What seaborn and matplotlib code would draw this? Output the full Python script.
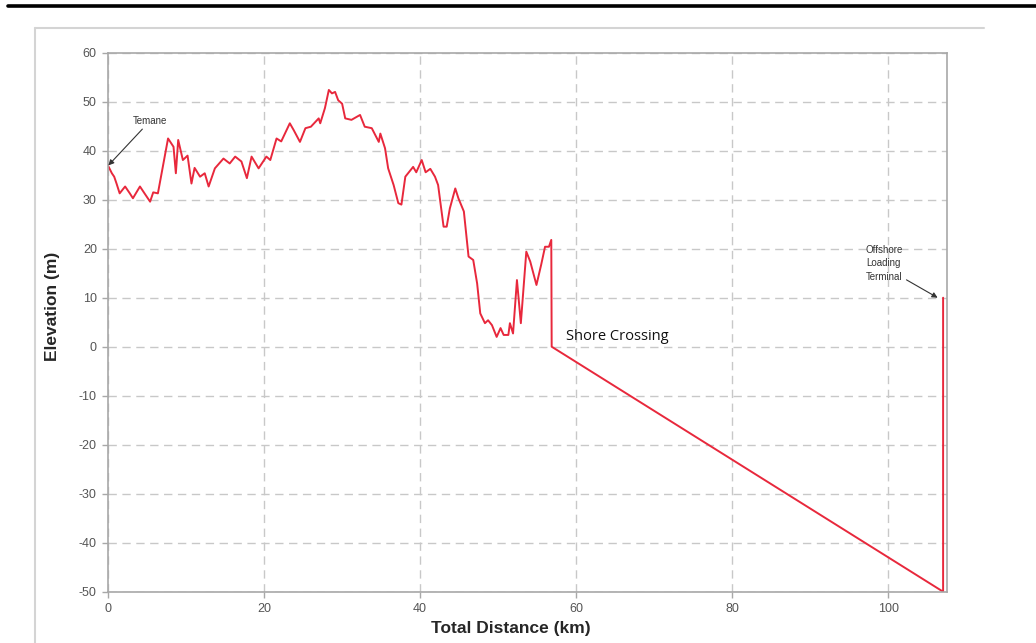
import pandas as pd
import matplotlib
matplotlib.use("Agg")
import matplotlib.pyplot as plt
from matplotlib.lines import Line2D
import seaborn as sns

# elevation profile along the pipeline (km, m)
dist = [0.0, 0.5, 0.8, 1.1, 1.5, 2.2, 2.8, 3.2, 4.1, 4.6, 5.4, 5.8, 6.4,
        7.7, 8.4, 8.7, 9.0, 9.6, 10.2, 10.7, 11.1, 11.8, 12.4, 12.9, 13.7,
        14.8, 15.6, 16.3, 17.1, 17.8, 18.4, 19.3, 20.3, 20.8, 21.6, 22.2,
        23.3, 23.8, 24.6, 25.3, 26.0, 27.0, 27.2, 27.8, 28.3, 28.7, 29.1,
        29.5, 30.0, 30.4, 31.2, 32.3, 32.9, 33.8, 34.7, 34.9, 35.5, 35.9,
        36.6, 37.2, 37.6, 38.1, 39.1, 39.5, 40.2, 40.7, 41.3, 41.9, 42.3,
        43.0, 43.4, 43.8, 44.5, 44.9, 45.6, 46.2, 46.8, 47.3, 47.7, 48.3,
        48.7, 49.2, 49.8, 50.3, 50.7, 51.3, 51.5, 51.9, 52.4, 52.9, 53.6,
        54.1, 54.9, 55.5, 56.0, 56.5, 56.8, 56.85, 107.0, 107.0]
elev = [37.0, 35.4, 34.7, 33.3, 31.3, 32.7, 31.3, 30.3, 32.7, 31.5, 29.6, 31.5, 31.3,
        42.5, 40.8, 35.4, 42.2, 38.1, 39.0, 33.3, 36.5, 34.7, 35.4, 32.7, 36.4,
        38.4, 37.4, 38.8, 37.8, 34.4, 38.8, 36.4, 38.8, 38.1, 42.5, 41.9,
        45.6, 44.2, 41.8, 44.6, 44.9, 46.6, 45.6, 48.7, 52.4, 51.7, 52.0,
        50.3, 49.6, 46.6, 46.3, 47.3, 44.9, 44.6, 41.8, 43.5, 40.5, 36.4,
        33.0, 29.3, 29.0, 34.7, 36.7, 35.6, 38.1, 35.6, 36.3, 34.7, 33.0,
        24.5, 24.5, 28.2, 32.3, 30.3, 27.6, 18.4, 17.7, 12.9, 6.8, 4.8,
        5.4, 4.4, 2.0, 3.8, 2.4, 2.4, 4.8, 2.7, 13.6, 4.8, 19.4,
        17.4, 12.6, 16.7, 20.4, 20.4, 21.8, 0.0, -50.0, 10.0]

x_ticks = [0, 20, 40, 60, 80, 100]
y_ticks = [-50, -40, -30, -20, -10, 0, 10, 20, 30, 40, 50, 60]

df = pd.DataFrame({"dist": dist, "elev": elev})

sns.set_style("white")
plt.rcParams["font.family"] = ["Liberation Sans", "DejaVu Sans"]
plt.rcParams["axes.unicode_minus"] = False

fig = plt.figure(figsize=(10.36, 6.43), dpi=100)
ax = fig.add_axes([0.1042, 0.0798, 0.8099, 0.8382])

sns.lineplot(data=df, x="dist", y="elev", sort=False, estimator=None,
             color="#e8283c", linewidth=1.4, ax=ax)

ax.set_xlim(0, 107.5)
ax.set_ylim(-50, 60)
ax.set_xticks(x_ticks)
ax.set_yticks(y_ticks)
ax.grid(True, color="#c8c8c8", linestyle=(0, (6, 4)), linewidth=1.0)
ax.set_axisbelow(True)
for s in ax.spines.values():
    s.set_color("#a8a8a8")
    s.set_linewidth(1.2)
ax.tick_params(axis="both", length=4, width=1, color="#a8a8a8",
               labelsize=9, labelcolor="#555555", pad=4, direction="out",
               bottom=True, left=True)
ax.set_xlabel("")
ax.set_ylabel("")

# annotations
ax.annotate("Temane", xy=(0.05, 37), xytext=(3.2, 46.1), fontsize=7,
            color="#333333", va="center", ha="left",
            arrowprops=dict(arrowstyle="-|>", color="#333333", lw=0.8,
                            mutation_scale=8, shrinkA=0, shrinkB=0))
ax.annotate("Offshore\nLoading\nTerminal", xy=(106.3, 10), xytext=(97.1, 17.0),
            fontsize=7, color="#333333", va="center", ha="left",
            multialignment="left", linespacing=1.4,
            arrowprops=dict(arrowstyle="-|>", color="#333333", lw=0.8,
                            mutation_scale=8, shrinkA=0, shrinkB=0,
                            relpos=(1.0, 0.1)))
ax.text(58.7, 2.0, "Shore Crossing", fontsize=10.5, family="Open Sans",
        color="#111111", va="center", ha="left")

# axis titles
fig.text(52 / 1036, 1 - 306 / 643, "Elevation (m)", rotation=90,
         fontsize=12.5, fontweight="bold", ha="center", va="center")
fig.text(511 / 1036, 1 - 628 / 643, "Total Distance (km)", fontsize=12.5,
         fontweight="bold", ha="center", va="center")

# page decorations: black rule and chart frame
fig.add_artist(Line2D([8 / 1036, 1.0], [1 - 5.5 / 643, 1 - 5.5 / 643],
                      color="black", linewidth=2.6))
fig.add_artist(Line2D([35 / 1036, 984 / 1036], [1 - 28 / 643, 1 - 28 / 643],
                      color="#d4d4d4", linewidth=1.5))
fig.add_artist(Line2D([35 / 1036, 35 / 1036], [1 - 28 / 643, 0.0],
                      color="#d4d4d4", linewidth=1.5))

fig.savefig("out.png", dpi=100)
